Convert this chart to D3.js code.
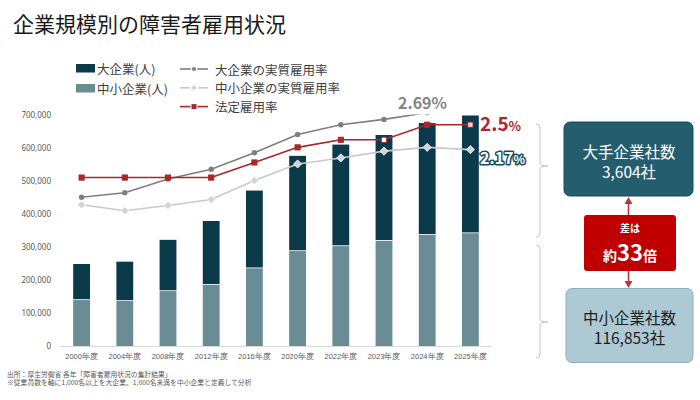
<!DOCTYPE html>
<html>
<head>
  <meta charset="utf-8">
  <script src="https://d3js.org/d3.v7.min.js"></script>
  <title>企業規模別の障害者雇用状況</title>
<style>
body { margin: 0; background: #fff; }
svg { font-family: "Noto Sans CJK JP", "Noto Sans", sans-serif; }
</style>
</head>
<body>
<div id="chart"></div>
<script>

// data
var years = ["2000年度", "2004年度", "2008年度", "2012年度", "2016年度", "2020年度", "2022年度", "2023年度", "2024年度", "2025年度"];
var smallWorkers = [139000, 136000, 166000, 185000, 235000, 287000, 302000, 318000, 336000, 341000];
var totalWorkers = [248000, 255000, 321000, 378000, 470000, 575000, 609000, 638000, 674000, 697000];
var largeWorkers = totalWorkers.map((t, i) => t - smallWorkers[i]);
var largeRate = [1.54, 1.60, 1.78, 1.91, 2.13, 2.37, 2.50, 2.57, 2.66, 2.69];
var smallRate = [1.44, 1.36, 1.43, 1.51, 1.76, 1.98, 2.06, 2.15, 2.20, 2.17];
var legalRate = [1.8, 1.8, 1.8, 1.8, 2.0, 2.2, 2.3, 2.3, 2.5, 2.5];
var yTicks = [0, 100000, 200000, 300000, 400000, 500000, 600000, 700000];

const W = 700, H = 400;
const plot = {left: 60, right: 492, top: 114.5, bottom: 346};

const svg = d3.select("#chart")
  .append("svg")
    .attr("width", W)
    .attr("height", H);

// title
svg.append("text")
  .attr("x", 13)
  .attr("y", 32)
  .style("font-size", "21px")
  .attr("fill", "#1a1a1a")
  .text("企業規模別の障害者雇用状況");

// scales
const x = d3.scaleBand()
  .domain(years)
  .range([plot.left, plot.right])
  .paddingInner(0.61)
  .paddingOuter(0.305);

const y = d3.scaleLinear()
  .domain([0, 700000])
  .range([plot.bottom, plot.top]);

// hidden secondary axis for the rates (%)
const y2 = d3.scaleLinear()
  .domain([-0.43, 2.635])
  .range([plot.bottom, plot.top]);

// Y axis (labels only)
const yAxis = svg.append("g")
  .attr("transform", `translate(56,0)`)
  .call(d3.axisLeft(y).tickValues(yTicks).tickSize(0).tickPadding(5).tickFormat(d3.format(",")));
yAxis.select(".domain").remove();
yAxis.selectAll("text")
  .style("font-size", "8px")
  .style("font-family", "'Noto Sans', sans-serif")
  .attr("fill", "#595959");

// stacked bars
const bars = svg.append("g");
bars.selectAll(".small")
  .data(years)
  .join("rect")
    .attr("class", "small")
    .attr("x", d => x(d))
    .attr("width", x.bandwidth())
    .attr("y", (d, i) => y(smallWorkers[i]))
    .attr("height", (d, i) => y(0) - y(smallWorkers[i]))
    .attr("fill", "#6a8c95");
bars.selectAll(".large")
  .data(years)
  .join("rect")
    .attr("class", "large")
    .attr("x", d => x(d))
    .attr("width", x.bandwidth())
    .attr("y", (d, i) => y(totalWorkers[i]))
    .attr("height", (d, i) => y(smallWorkers[i]) - y(totalWorkers[i]) - 0.8)
    .attr("fill", "#0b3a4b");

// X axis
const xAxis = svg.append("g")
  .attr("transform", `translate(0,${plot.bottom})`)
  .call(d3.axisBottom(x).tickSize(0).tickPadding(8));
xAxis.select(".domain").attr("stroke", "#d9d9d9");
xAxis.selectAll("text")
  .style("font-size", "7.5px")
  .attr("fill", "#595959");

// lines, clipped to the plot area
svg.append("defs").append("clipPath")
  .attr("id", "clip")
  .append("rect")
    .attr("x", 0)
    .attr("y", plot.top)
    .attr("width", W)
    .attr("height", H - plot.top);

const lines = svg.append("g").attr("clip-path", "url(#clip)");
const cx = d => x(d) + x.bandwidth() / 2;

function drawLine(values, color) {
  lines.append("path")
    .datum(values)
    .attr("fill", "none")
    .attr("stroke", color)
    .attr("stroke-width", 1.6)
    .attr("d", d3.line()
      .x((d, i) => cx(years[i]))
      .y(d => y2(d)));
}
drawLine(smallRate, "#c9c9c9");
drawLine(largeRate, "#7f7f7f");
drawLine(legalRate, "#a9262d");

// markers
lines.selectAll(".smallPt")
  .data(smallRate)
  .join("path")
    .attr("class", "smallPt")
    .attr("transform", (d, i) => `translate(${cx(years[i])},${y2(d)})`)
    .attr("d", d3.symbol(d3.symbolDiamond2, 42))
    .attr("fill", "#d3d3d3")
    .attr("stroke", "#fff")
    .attr("stroke-width", 0.8);
lines.selectAll(".largePt")
  .data(largeRate)
  .join("circle")
    .attr("class", "largePt")
    .attr("cx", (d, i) => cx(years[i]))
    .attr("cy", d => y2(d))
    .attr("r", 2.7)
    .attr("fill", "#7f7f7f");
lines.selectAll(".legalPt")
  .data(legalRate)
  .join("rect")
    .attr("class", "legalPt")
    .attr("x", (d, i) => cx(years[i]) - 2.6)
    .attr("y", d => y2(d) - 2.6)
    .attr("width", 5.2)
    .attr("height", 5.2)
    .attr("fill", (d, i) => i == 7 ? "#fff" : (i == 9 ? "#f2d6d7" : "#a9262d"))
    .attr("stroke", "#a9262d")
    .attr("stroke-width", 0.9);

// end labels
svg.append("text")
  .attr("x", 398)
  .attr("y", 109)
  .style("font-size", "16px")
  .style("font-weight", "bold")
  .attr("fill", "#858585")
  .text(largeRate[9] + "%");

const legalLabel = svg.append("text")
  .attr("x", 480)
  .attr("y", 131)
  .style("font-weight", "bold")
  .attr("fill", "#b0232a");
legalLabel.append("tspan").style("font-size", "19px").text(legalRate[9]);
legalLabel.append("tspan").style("font-size", "13px").text("%");

const smallLabel = svg.append("text")
  .attr("x", 480)
  .attr("y", 164)
  .style("font-weight", "bold")
  .attr("fill", "#fff")
  .attr("stroke", "#1d4c5b")
  .attr("stroke-width", 3)
  .attr("stroke-linejoin", "round")
  .attr("paint-order", "stroke");
smallLabel.append("tspan").style("font-size", "16px").text(smallRate[9]);
smallLabel.append("tspan").style("font-size", "12px").text("%");

// legend
var barLegend = [["大企業(人)", "#0b3a4b"], ["中小企業(人)", "#6a8c95"]];
barLegend.forEach((d, i) => {
  svg.append("rect")
    .attr("x", 76).attr("y", 64 + i * 20)
    .attr("width", 19).attr("height", 8.5)
    .attr("fill", d[1]);
  svg.append("text")
    .attr("x", 97).attr("y", 68.5 + i * 20)
    .attr("dominant-baseline", "central")
    .style("font-size", "12.5px")
    .attr("fill", "#404040")
    .text(d[0]);
});

var lineLegend = ["大企業の実質雇用率", "中小企業の実質雇用率", "法定雇用率"];
var lineColors = ["#7f7f7f", "#c9c9c9", "#a9262d"];
lineLegend.forEach((d, i) => {
  const ly = 69 + i * 18.8;
  svg.append("line")
    .attr("x1", 180).attr("x2", 208)
    .attr("y1", ly).attr("y2", ly)
    .attr("stroke", lineColors[i])
    .attr("stroke-width", 1.6);
  if (i == 0) {
    svg.append("circle").attr("cx", 194).attr("cy", ly).attr("r", 2.7)
      .attr("fill", lineColors[i]).attr("stroke", "#fff").attr("stroke-width", 1.2);
  } else if (i == 1) {
    svg.append("path").attr("transform", `translate(194,${ly})`)
      .attr("d", d3.symbol(d3.symbolDiamond2, 34))
      .attr("fill", "#d3d3d3").attr("stroke", "#fff").attr("stroke-width", 1.2);
  } else {
    svg.append("rect").attr("x", 191).attr("y", ly - 3).attr("width", 6).attr("height", 6)
      .attr("fill", lineColors[i]).attr("stroke", "#fff").attr("stroke-width", 1);
  }
  svg.append("text")
    .attr("x", 215).attr("y", ly)
    .attr("dominant-baseline", "central")
    .style("font-size", "12.5px")
    .attr("fill", "#404040")
    .text(d);
});

// braces
function brace(top, tip, bottom) {
  const bx = 540;
  return `M${bx - 4},${top} Q${bx},${top} ${bx},${top + 4} L${bx},${tip - 3} Q${bx},${tip} ${bx + 8},${tip}` +
         ` Q${bx},${tip} ${bx},${tip + 3} L${bx},${bottom - 4} Q${bx},${bottom} ${bx - 4},${bottom}`;
}
svg.append("path")
  .attr("d", brace(124, 166, 237))
  .attr("fill", "none").attr("stroke", "#c4c4c4").attr("stroke-width", 1);
svg.append("path")
  .attr("d", brace(245, 322, 358))
  .attr("fill", "none").attr("stroke", "#c4c4c4").attr("stroke-width", 1);

// company count boxes
var largeCompanies = "3,604";
var smallCompanies = "116,853";

svg.append("rect")
  .attr("x", 564).attr("y", 122).attr("width", 129).attr("height", 74).attr("rx", 6)
  .attr("fill", "#245e6e").attr("stroke", "#1b4a58").attr("stroke-width", 1);
svg.append("text").attr("x", 629).attr("y", 158).attr("text-anchor", "middle")
  .style("font-size", "15.5px").attr("fill", "#fff").text("大手企業社数");
svg.append("text").attr("x", 629).attr("y", 178).attr("text-anchor", "middle")
  .style("font-size", "15.5px").attr("fill", "#fff").text(largeCompanies + "社");

svg.append("rect")
  .attr("x", 566).attr("y", 288.5).attr("width", 127).attr("height", 74).attr("rx", 6)
  .attr("fill", "#adc9d4").attr("stroke", "#8fb0bd").attr("stroke-width", 1);
svg.append("text").attr("x", 629.5).attr("y", 323.5).attr("text-anchor", "middle")
  .style("font-size", "15.5px").attr("fill", "#1e1e1e").text("中小企業社数");
svg.append("text").attr("x", 629.5).attr("y", 343.5).attr("text-anchor", "middle")
  .style("font-size", "15.5px").attr("fill", "#1e1e1e").text(smallCompanies + "社");

// arrows
const ax = 628.5;
svg.append("line").attr("x1", ax).attr("x2", ax).attr("y1", 202).attr("y2", 215)
  .attr("stroke", "#b5373a").attr("stroke-width", 1.6);
svg.append("path").attr("d", `M${ax - 4},${204} L${ax},${197} L${ax + 4},${204} Z`).attr("fill", "#b5373a");
svg.append("line").attr("x1", ax).attr("x2", ax).attr("y1", 271).attr("y2", 282)
  .attr("stroke", "#b5373a").attr("stroke-width", 1.6);
svg.append("path").attr("d", `M${ax - 4},${281} L${ax},${288} L${ax + 4},${281} Z`).attr("fill", "#b5373a");

// ratio box
svg.append("rect")
  .attr("x", 584).attr("y", 215).attr("width", 92).attr("height", 56).attr("rx", 3)
  .attr("fill", "#c00000");
svg.append("text").attr("x", 630).attr("y", 232).attr("text-anchor", "middle")
  .style("font-size", "10px").style("font-weight", "bold").attr("fill", "#fff").text("差は");
const ratio = svg.append("text").attr("x", 630).attr("y", 261).attr("text-anchor", "middle")
  .style("font-weight", "bold").attr("fill", "#fff");
ratio.append("tspan").style("font-size", "14px").text("約");
ratio.append("tspan").style("font-size", "22px").text("33");
ratio.append("tspan").style("font-size", "14px").text("倍");

// footnotes
svg.append("text").attr("x", 7).attr("y", 376.5)
  .style("font-size", "6.8px").attr("fill", "#595959")
  .text("出所：厚生労働省 各年「障害者雇用状況の集計結果」");
svg.append("text").attr("x", 7).attr("y", 385)
  .style("font-size", "6.8px").attr("fill", "#595959")
  .text("※従業員数を軸に1,000名以上を大企業、1,000名未満を中小企業と定義して分析");

</script>
</body>
</html>
